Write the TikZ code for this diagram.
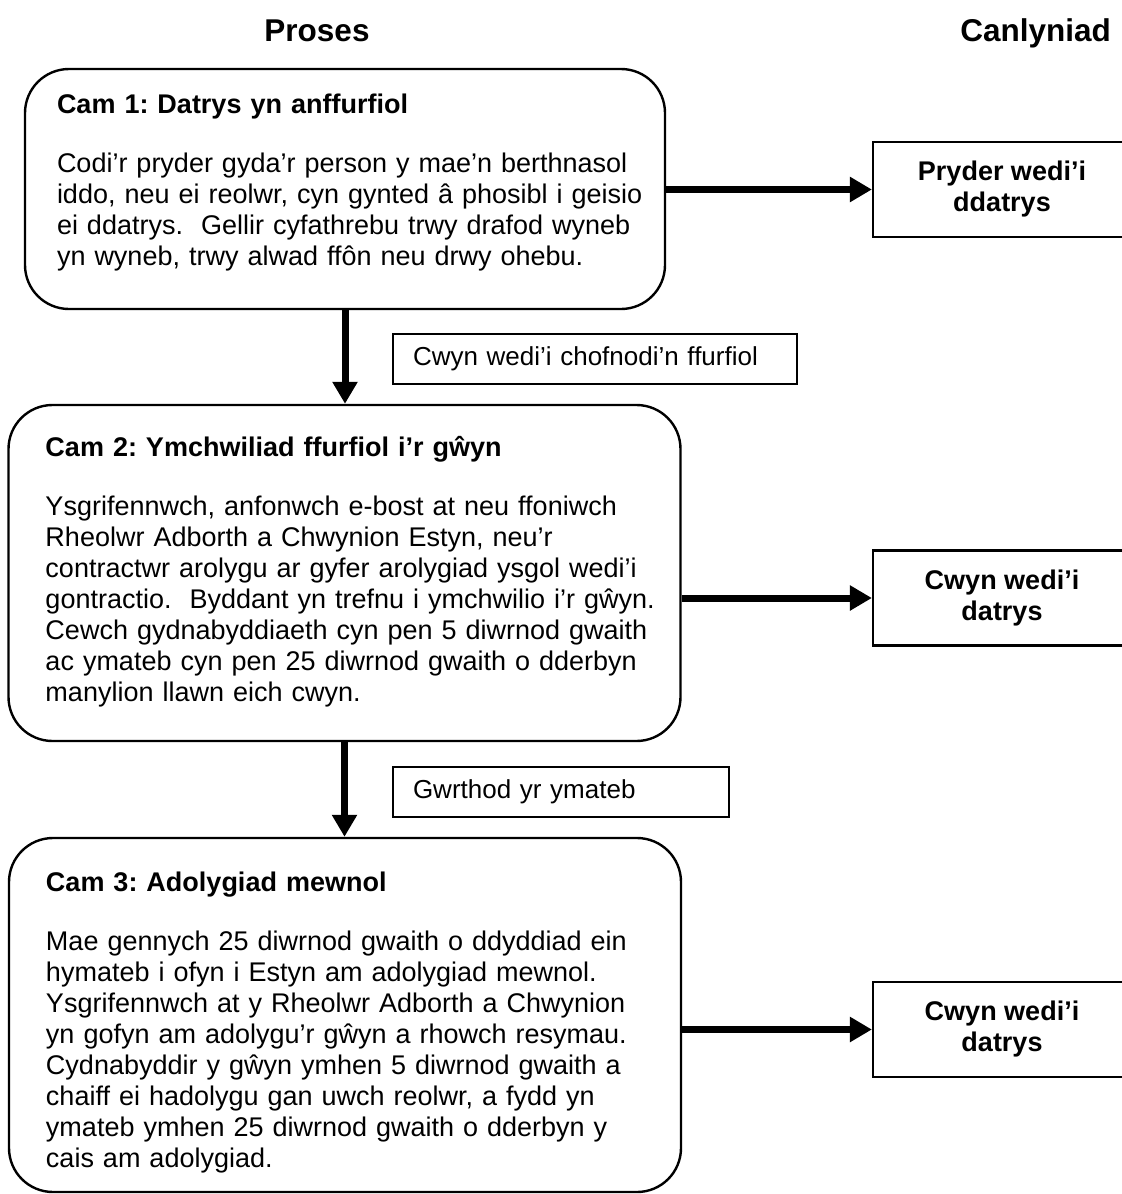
\documentclass[tikz,border=0pt]{standalone}
\usepackage{fontspec}
\setmainfont{Liberation Sans}
\frenchspacing
\usetikzlibrary{positioning}
\usetikzlibrary{arrows.meta}
\tikzset{
    stepbox/.style = {rectangle, rounded corners=22pt, line width=1.2pt, draw=black, align=left, font=\fontsize{13.5}{15.5}\selectfont},
    resultbox/.style = {rectangle, line width=1.1pt, draw=black, align=center, minimum width=129pt, minimum height=47.5pt, font=\fontsize{13.5}{15.5}\selectfont\bfseries},
    notebox/.style = {rectangle, line width=1pt, draw=black, align=left, inner xsep=10pt, minimum height=25pt, font=\fontsize{13}{15}\selectfont},
    colhead/.style = {font=\fontsize{15.75}{18}\selectfont\bfseries},
    flowarrow/.style = {-{Triangle[length=11pt,width=12pt]}, line width=3.5pt, black}
}

\begin{document}
\begin{tikzpicture}[x=0.5pt,y=-0.5pt]
\useasboundingbox (0,0) rectangle (1121,1194);

% column titles
\node[colhead, anchor=base] at (317, 41) (proses) {Proses};
\node[colhead, anchor=base east] at (1118, 41) (canlyniad) {Canlyniad};

% steps
\node[stepbox, text width=288pt, inner xsep=16pt, minimum height=120pt] at (345, 189) (cam1)
{\begin{tabular}{@{}l@{}}
\textbf{Cam 1: Datrys yn anffurfiol}\\[14pt]
Codi’r pryder gyda’r person y mae’n berthnasol\\
iddo, neu ei reolwr, cyn gynted â phosibl i geisio\\
ei ddatrys.\ \ Gellir cyfathrebu trwy drafod wyneb\\
yn wyneb, trwy alwad ffôn neu drwy ohebu.\\[6pt]
\end{tabular}};

\node[stepbox, text width=299pt, inner xsep=18.5pt, minimum height=168pt] at (344.5, 573) (cam2)
{\begin{tabular}{@{}l@{}}
\textbf{Cam 2: Ymchwiliad ffurfiol i’r gŵyn}\\[14pt]
Ysgrifennwch, anfonwch e-bost at neu ffoniwch\\
Rheolwr Adborth a Chwynion Estyn, neu’r\\
contractwr arolygu ar gyfer arolygiad ysgol wedi’i\\
gontractio.\ \ Byddant yn trefnu i ymchwilio i’r gŵyn.\\
Cewch gydnabyddiaeth cyn pen 5 diwrnod gwaith\\
ac ymateb cyn pen 25 diwrnod gwaith o dderbyn\\
manylion llawn eich cwyn.
\end{tabular}};

\node[stepbox, text width=299pt, inner xsep=18.5pt, minimum height=177pt] at (345, 1015) (cam3)
{\begin{tabular}{@{}l@{}}
\rule{0pt}{16pt}\\[-12pt]
\textbf{Cam 3: Adolygiad mewnol}\\[14pt]
Mae gennych 25 diwrnod gwaith o ddyddiad ein\\
hymateb i ofyn i Estyn am adolygiad mewnol.\\
Ysgrifennwch at y Rheolwr Adborth a Chwynion\\
yn gofyn am adolygu’r gŵyn a rhowch resymau.\\
Cydnabyddir y gŵyn ymhen 5 diwrnod gwaith a\\
chaiff ei hadolygu gan uwch reolwr, a fydd yn\\
ymateb ymhen 25 diwrnod gwaith o dderbyn y\\
cais am adolygiad.
\end{tabular}};

% labels on the down arrows
\node[notebox, text width=182pt] at (595, 359) (lab1) {Cwyn wedi’i chofnodi’n ffurfiol};
\node[notebox, text width=148pt] at (561, 792) (lab2) {Gwrthod yr ymateb};

% outcomes
\node[resultbox] at (1002, 189.5) (res1) {Pryder wedi’i\\ddatrys};
\node[resultbox] at (1002, 598) (res2) {Cwyn wedi’i\\datrys};
\node[resultbox] at (1002, 1029.5) (res3) {Cwyn wedi’i\\datrys};

\draw[flowarrow] (cam1.south) -- (cam1.south |- cam2.north);
\draw[flowarrow] (cam2.south) -- (cam2.south |- cam3.north);
\draw[flowarrow] (cam1.east |- res1.west) -- (res1.west);
\draw[flowarrow] (cam2.east |- res2.west) -- (res2.west);
\draw[flowarrow] (cam3.east |- res3.west) -- (res3.west);

\end{tikzpicture}
\end{document}
